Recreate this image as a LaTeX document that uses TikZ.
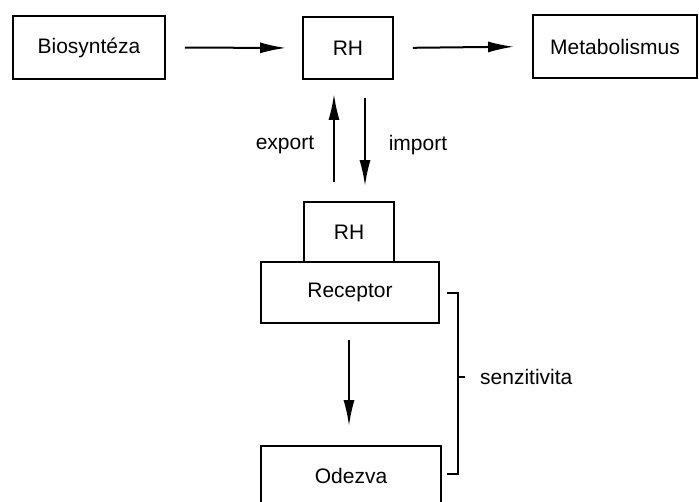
\documentclass[tikz,border=0pt]{standalone}
\usepackage{fontspec}
\setmainfont{Liberation Sans}
\usetikzlibrary{arrows.meta}
\begin{document}
\begin{tikzpicture}[x=1pt,y=-1pt,
  box/.style={draw, line width=1.8pt, inner sep=0pt, font=\fontsize{21}{25}\selectfont},
  lbl/.style={font=\fontsize{21}{25}\selectfont, inner sep=0pt},
  arr/.style={line width=2pt, -{Latex[length=26pt,width=11pt]}}]
\useasboundingbox (0,0) rectangle (699,501);
\clip (0,0) rectangle (699,501);
\node[box, minimum width=152pt, minimum height=63pt] (bio) at (89,47.5) {Biosyntéza};
\node[box, minimum width=90pt, minimum height=62pt] (rh1) at (348,48) {RH};
\node[box, minimum width=164pt, minimum height=63pt] (met) at (615,46.5) {Metabolismus};
\node[box, minimum width=90pt, minimum height=60pt] (rh2) at (349,232) {RH};
\node[box, minimum width=178pt, minimum height=61pt] (rec) at (350,292.5) {Receptor};
\node[box, minimum width=180pt, minimum height=60pt] (ode) at (351,476) {Odezva};
\draw[arr, shorten <=19pt, shorten >=16pt] (bio.east) -- (rh1.west);
\draw[arr, shorten <=19pt, shorten >=18pt] (rh1.east) -- (met.west);
\draw[arr, shorten <=19pt, shorten >=14pt] ([xshift=-15pt]rh2.north) -- ([xshift=-14pt]rh1.south);
\draw[arr, shorten <=18pt, shorten >=15pt] ([xshift=17pt]rh1.south) -- ([xshift=16pt]rh2.north);
\draw[arr, shorten <=16pt, shorten >=19pt] ([xshift=-1pt]rec.south) -- ([xshift=-2pt]ode.north);
\node[lbl] (exp) at (285,145) {export};
\node[lbl] (imp) at (418,145) {import};
\coordinate (bt) at (447,293);
\coordinate (bb) at (447,474);
\coordinate (bm) at (458,377);
\draw[line width=1.8pt] (bt) -- ++(11,0) -- ++(0,181) -- (bb);
\draw[line width=1.8pt] (bm) -- ++(7,0);
\node[lbl, anchor=west] (sens) at (480,377) {senzitivita};
\end{tikzpicture}
\end{document}
